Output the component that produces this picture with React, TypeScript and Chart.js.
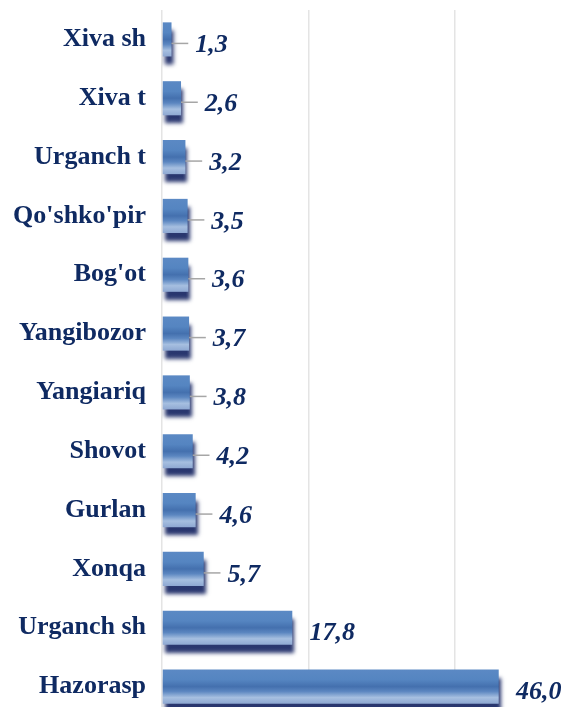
import React, { useEffect, useRef } from "react";
import { Chart, registerables } from "chart.js";

Chart.register(...registerables);

const categories = [
  "Xiva sh",
  "Xiva t",
  "Urganch t",
  "Qo'shko'pir",
  "Bog'ot",
  "Yangibozor",
  "Yangiariq",
  "Shovot",
  "Gurlan",
  "Xonqa",
  "Urganch sh",
  "Hazorasp",
];
const values = [1.3, 2.6, 3.2, 3.5, 3.6, 3.7, 3.8, 4.2, 4.6, 5.7, 17.8, 46.0];
const valueLabels = values.map((v) => v.toFixed(1).replace(".", ","));
const xMax = 50;
const xStep = 20;

const NAVY = "#0f2a62";
const FONT = "'Liberation Serif', 'Times New Roman', serif";
const BAR_PCT = 0.58;

export default function App() {
  const ref = useRef<HTMLCanvasElement | null>(null);

  useEffect(() => {
    if (!ref.current) return;

    const shadowAndLabels = {
      id: "shadowAndLabels",
      beforeDatasetsDraw(chart: any) {
        const c = chart.ctx;
        c.save();
        c.shadowColor = "rgba(34,48,106,0.97)";
        c.shadowBlur = 4;
        c.shadowOffsetX = 2;
        c.shadowOffsetY = 8;
      },
      afterDatasetsDraw(chart: any) {
        const c = chart.ctx;
        c.restore();
        const meta = chart.getDatasetMeta(0);
        c.save();
        c.font = `italic bold 26px ${FONT}`;
        c.textAlign = "center";
        c.textBaseline = "middle";
        meta.data.forEach((el: any, i: number) => {
          const txt = valueLabels[i];
          const w = c.measureText(txt).width;
          const cx = el.x + 40;
          const left = cx - w / 2;
          const lineLen = left - 7 - el.x;
          if (lineLen > 11) {
            c.strokeStyle = "#a6a6a6";
            c.lineWidth = 1.5;
            c.beginPath();
            c.moveTo(el.x, el.y + 4);
            c.lineTo(left - 7, el.y + 4);
            c.stroke();
          }
          c.fillStyle = NAVY;
          c.fillText(txt, cx, el.y + 6);
        });
        c.restore();
      },
    };

    const chart = new Chart(ref.current, {
      type: "bar",
      data: {
        labels: categories,
        datasets: [
          {
            data: values,
            borderWidth: 0,
            categoryPercentage: 1,
            barPercentage: BAR_PCT,
            backgroundColor: (ctx: any) => {
              const ch = ctx.chart;
              const ys = ch.scales && ch.scales.y;
              if (!ys || ctx.dataIndex === undefined || !ch.chartArea) return "#5585c1";
              const yc = ys.getPixelForValue(ctx.dataIndex);
              const band = (ch.chartArea.bottom - ch.chartArea.top) / categories.length;
              const half = (band * BAR_PCT) / 2;
              const g = ch.ctx.createLinearGradient(0, yc - half, 0, yc + half);
              g.addColorStop(0, "#5b89c4");
              g.addColorStop(0.3, "#5585c1");
              g.addColorStop(0.5, "#4470ae");
              g.addColorStop(0.64, "#5b86c0");
              g.addColorStop(0.82, "#a6bfe0");
              g.addColorStop(1, "#8ea8d2");
              return g;
            },
          },
        ],
      },
      options: {
        indexAxis: "y",
        animation: false,
        responsive: false,
        maintainAspectRatio: false,
        layout: { padding: { top: 10, right: 38, bottom: 0, left: 0 } },
        plugins: {
          legend: { display: false },
          tooltip: { enabled: false },
        },
        scales: {
          x: {
            min: 0,
            max: xMax,
            ticks: { display: false, stepSize: xStep },
            grid: {
              drawTicks: false,
              lineWidth: 1.5,
              color: (ctx: any) =>
                ctx.tick && ctx.tick.value === xMax ? "rgba(0,0,0,0)" : "#e4e4e4",
            },
            border: { display: false },
            afterFit: (s: any) => {
              s.height = 0;
              s.paddingLeft = 0;
              s.paddingRight = 0;
            },
          },
          y: {
            grid: { display: false, drawTicks: false },
            border: { display: false },
            ticks: {
              padding: 16,
              color: NAVY,
              font: { family: FONT, size: 26, weight: "bold" },
            },
            afterFit: (s: any) => {
              s.width = 162;
              s.paddingTop = 0;
              s.paddingBottom = 0;
            },
          },
        },
      },
      plugins: [shadowAndLabels],
    } as any);

    return () => chart.destroy();
  }, []);

  return (
    <div
      style={{
        position: "fixed",
        left: 0,
        top: 0,
        width: 566,
        height: 707,
        overflow: "hidden",
        background: "#fff",
      }}
    >
      <canvas ref={ref} width={566} height={716} style={{ width: 566, height: 716 }} />
    </div>
  );
}
